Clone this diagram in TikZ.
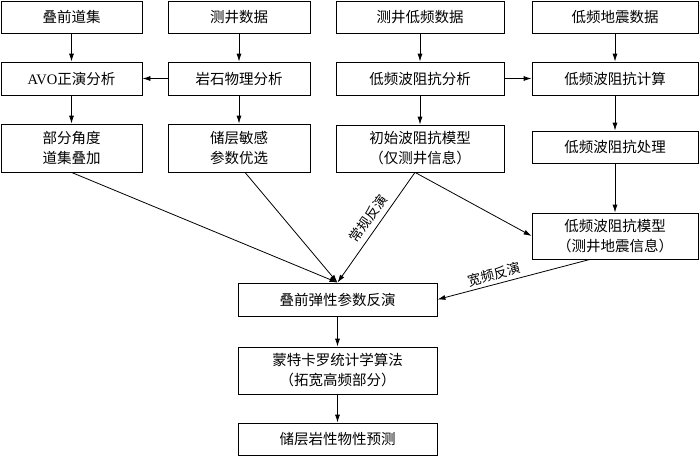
\documentclass[tikz,border=0pt]{standalone}
\usepackage{fontspec}
\setmainfont{Noto Sans CJK SC}
\newfontfamily\latin{Liberation Serif}
\usetikzlibrary{arrows.meta}
\tikzset{
  box/.style={draw, line width=0.8pt, align=center, inner sep=0pt, font=\fontsize{14.5}{20}\selectfont},
  arr/.style={line width=0.8pt, -{Latex[length=8pt,width=5pt]}},
  lbl/.style={font=\fontsize{13.5}{16}\selectfont, inner sep=1pt}
}
\begin{document}
\begin{tikzpicture}[x=1pt,y=-1pt]
\useasboundingbox (0,0) rectangle (700,456);
% row 1
\node[box, minimum width=141pt, minimum height=32pt] (b1) at (71.5,17) {叠前道集};
\node[box, minimum width=142pt, minimum height=32pt] (b2) at (239,17) {测井数据};
\node[box, minimum width=168pt, minimum height=32pt] (b3) at (420,17) {测井低频数据};
\node[box, minimum width=166pt, minimum height=32pt] (b4) at (615,17) {低频地震数据};
% row 2
\node[box, minimum width=141pt, minimum height=33pt] (a1) at (71.5,78.5) {{\latin AVO}正演分析};
\node[box, minimum width=142pt, minimum height=33pt] (a2) at (239,78.5) {岩石物理分析};
\node[box, minimum width=168pt, minimum height=33pt] (a3) at (420,78.5) {低频波阻抗分析};
\node[box, minimum width=166pt, minimum height=33pt] (a4) at (615,78.5) {低频波阻抗计算};
% row 3
\node[box, minimum width=141pt, minimum height=48pt] (c1) at (71.5,148) {部分角度\\道集叠加};
\node[box, minimum width=142pt, minimum height=48pt] (c2) at (239,148) {储层敏感\\参数优选};
\node[box, minimum width=168pt, minimum height=47pt] (c3) at (420,148.5) {初始波阻抗模型\\（仅测井信息）};
\node[box, minimum width=166pt, minimum height=32pt] (c4) at (615,147) {低频波阻抗处理};
% lower
\node[box, minimum width=166pt, minimum height=46pt] (d) at (615,236) {低频波阻抗模型\\（测井地震信息）};
\node[box, minimum width=199pt, minimum height=33pt] (e) at (337.5,299.5) {叠前弹性参数反演};
\node[box, minimum width=199pt, minimum height=47pt] (f) at (337.5,370.5) {蒙特卡罗统计学算法\\（拓宽高频部分）};
\node[box, minimum width=199pt, minimum height=32pt] (g) at (337.5,439) {储层岩性物性预测};
% vertical arrows
\draw[arr] (b1) -- (a1);
\draw[arr] (b2) -- (a2);
\draw[arr] (b3) -- (a3);
\draw[arr] (b4) -- (a4);
\draw[arr] (a1) -- (c1);
\draw[arr] (a2) -- (c2);
\draw[arr] (a3) -- (c3);
\draw[arr] (a4) -- (c4);
\draw[arr] (c4) -- (d);
\draw[arr] (e) -- (f);
\draw[arr] (f) -- (g);
% horizontal arrows
\draw[arr] (a2) -- (a1);
\draw[arr] (a3) -- (a4);
% converging
\draw[arr] (c1.south) -- (e.north);
\draw[arr] ([xshift=6pt]c2.south) -- (e.north);
\draw[arr] ([xshift=-5pt]c3.south) -- node[lbl, pos=0.48, sloped, above=4pt] {常规反演} (e.north);
\draw[arr] ([xshift=-5pt]c3.south) -- (d.west);
\draw[arr] ([xshift=-25pt]d.south) -- node[lbl, pos=0.61, sloped, above=2pt] {宽频反演} (e.east);
\end{tikzpicture}
\end{document}
